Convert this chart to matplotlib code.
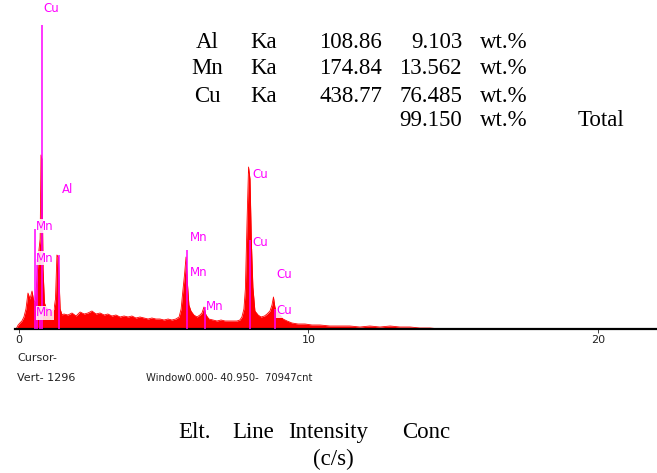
import matplotlib.pyplot as plt

# EDS spectrum, energy (keV) vs counts
energy = [-0.10, -0.03, 0.03, 0.10, 0.17, 0.24, 0.31, 0.38, 0.45, 0.52, 0.57, 0.62, 0.67, 0.73,
          0.76, 0.79, 0.83, 0.88, 0.93, 1.00, 1.07, 1.14, 1.21, 1.26, 1.31, 1.36, 1.42, 1.49, 1.55,
          1.69, 1.83, 1.97, 2.11, 2.25, 2.38, 2.52, 2.66, 2.80, 2.94, 3.07, 3.21, 3.35, 3.49, 3.63,
          3.77, 3.90, 4.04, 4.18, 4.32, 4.46, 4.59, 4.73, 4.87, 5.01, 5.15, 5.28, 5.42, 5.53, 5.60,
          5.66, 5.72, 5.77, 5.82, 5.87, 5.94, 6.04, 6.15, 6.25, 6.32, 6.39, 6.46, 6.56, 6.70, 6.84,
          6.98, 7.12, 7.25, 7.39, 7.53, 7.63, 7.70, 7.77, 7.82, 7.88, 7.93, 7.98, 8.03, 8.08, 8.15,
          8.26, 8.36, 8.48, 8.57, 8.67, 8.74, 8.79, 8.84, 8.91, 9.02, 9.12, 9.26, 9.43, 9.64, 9.88,
          10.12, 10.40, 10.74, 11.09, 11.43, 11.78, 12.12, 12.47, 12.82, 13.16, 13.51, 13.85, 14.20,
          14.54]
counts = [0, 16, 24, 32, 48, 80, 144, 120, 152, 104, 120, 200, 296, 360,
          696, 680, 240, 104, 88, 80, 72, 72, 80, 120, 296, 288, 80, 56, 60,
          56, 64, 52, 68, 60, 64, 72, 60, 64, 56, 60, 52, 56, 48, 52,
          48, 52, 44, 48, 44, 40, 44, 40, 40, 36, 40, 36, 40, 48, 80,
          152, 220, 288, 180, 96, 72, 56, 48, 56, 64, 88, 56, 40, 36, 32,
          36, 32, 32, 32, 32, 36, 48, 80, 160, 440, 648, 600, 340, 168, 72,
          56, 48, 52, 60, 72, 96, 128, 88, 68, 56, 40, 32, 24, 20, 20,
          16, 16, 12, 12, 12, 8, 12, 8, 12, 8, 8, 4, 4,
          0]

# KLM marker lines
marker_energy = [0.79, 0.55, 0.62, 0.72, 1.38, 5.80, 6.42, 7.98, 8.84]
marker_top = [1216, 400, 280, 64, 296, 316, 88, 356, 80]

# element labels on the spectrum
label_text = ['Cu', 'Al', 'Mn', 'Mn', 'Mn', 'Mn', 'Mn', 'Mn', 'Cu', 'Cu', 'Cu', 'Cu']
label_energy = [0.83, 1.49, 0.59, 0.59, 0.59, 5.91, 5.91, 6.46, 8.05, 8.05, 8.88, 8.88]
label_count = [1284, 560, 412, 284, 64, 368, 224, 88, 620, 348, 220, 72]

# quantification table
elements = ['Al', 'Mn', 'Cu']
lines = ['Ka', 'Ka', 'Ka']
intensity = ['108.86', '174.84', '438.77']
conc = ['9.103', '13.562', '76.485']
total = '99.150'

W, H = 657, 473
fig = plt.figure(figsize=(W / 100, H / 100), dpi=100)


def px(x, y):
    return x / W, 1 - y / H


ax = fig.add_axes([15 / W, 144 / H, 642 / W, 329 / H])
ax.fill_between(energy, counts, color='#ff0000', lw=0, zorder=2)
ax.plot(energy, counts, color='#ff0000', lw=0.6, zorder=2)
ax.vlines(marker_energy, 0, marker_top, color='#ff00ff', lw=1.1, zorder=3)
for t, e, c in zip(label_text, label_energy, label_count):
    ax.text(e, c, t, color='#ff00ff', fontsize=8.5, va='center', ha='left', zorder=4,
            bbox=dict(facecolor='white', edgecolor='none', pad=0.3, alpha=0.85))

ax.set_xlim(-0.138, 22.04)
ax.set_ylim(0, 1316)
for s in ['top', 'left', 'right']:
    ax.spines[s].set_visible(False)
ax.spines['bottom'].set_linewidth(1.6)
ax.set_yticks([])
ax.set_xticks([0, 10, 20])
ax.set_xticklabels(['0', '10', '20'])
ax.tick_params(axis='x', length=3, width=0.6, pad=1.5, labelsize=8, colors='#222222')

# table
serif = 'Liberation Serif'
fs = 16.5
rows_y = [43, 69, 96, 121]
for i in range(3):
    y = rows_y[i]
    fig.text(*px(207, y), elements[i], ha='center', va='center', family=serif, fontsize=fs)
    fig.text(*px(250, y), lines[i], ha='left', va='center', family=serif, fontsize=fs)
    fig.text(*px(382, y), intensity[i], ha='right', va='center', family=serif, fontsize=fs)
    fig.text(*px(462, y), conc[i], ha='right', va='center', family=serif, fontsize=fs)
    fig.text(*px(480, y), 'wt.%', ha='left', va='center', family=serif, fontsize=fs)
fig.text(*px(462, rows_y[3]), total, ha='right', va='center', family=serif, fontsize=fs)
fig.text(*px(480, rows_y[3]), 'wt.%', ha='left', va='center', family=serif, fontsize=fs)
fig.text(*px(578, rows_y[3]), 'Total', ha='left', va='center', family=serif, fontsize=fs)

# info lines under the axis
info = dict(ha='left', va='center', fontsize=8, color='#222222')
fig.text(*px(17, 358), 'Cursor-', **info)
fig.text(*px(17, 378), 'Vert- 1296', **info)
fig.text(*px(146, 378), 'Window0.000- 40.950-  70947cnt', ha='left', va='center',
         fontsize=7.2, color='#222222')

# column header
for word, x in zip(['Elt.', 'Line', 'Intensity', 'Conc'], [178, 232, 288, 402]):
    fig.text(*px(x, 432), word, ha='left', va='center', family=serif, fontsize=fs)
fig.text(*px(333, 459), '(c/s)', ha='center', va='center', family=serif, fontsize=fs)

fig.savefig('out.png', dpi=100)
